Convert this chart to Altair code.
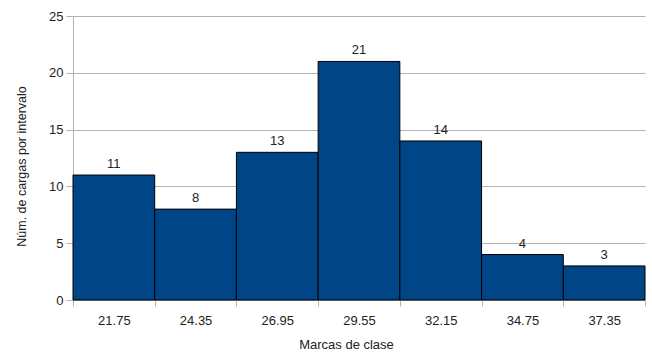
import altair as alt
import pandas as pd

# Class marks and frequency per interval
marcas = ["21.75", "24.35", "26.95", "29.55", "32.15", "34.75", "37.35"]
frecuencias = [11, 8, 13, 21, 14, 4, 3]

df = pd.DataFrame({"marca": marcas, "n": frecuencias})

x_enc = alt.X(
    "marca:N",
    sort=marcas,
    title="Marcas de clase",
    scale=alt.Scale(paddingInner=0, paddingOuter=0),
    axis=alt.Axis(
        labelAngle=0,
        tickBand="extent",
        domainColor="#b3b3b3",
        tickColor="#b3b3b3",
        tickSize=6,
        labelPadding=8,
        titlePadding=11,
        titleFontSize=13,
        titleX=273,
    ),
)
y_enc = alt.Y(
    "n:Q",
    title="Núm. de cargas por intervalo",
    scale=alt.Scale(domain=[0, 25], nice=False),
    axis=alt.Axis(
        values=[0, 5, 10, 15, 20, 25],
        gridColor="#b3b3b3",
        domainColor="#b3b3b3",
        tickColor="#b3b3b3",
        tickSize=7,
        labelPadding=3,
        titlePadding=20,
        titleFontSize=12.5,
        titleY=150,
    ),
)

barras = alt.Chart(df).mark_bar(
    color="#004586", stroke="#000000", strokeWidth=1
).encode(x=x_enc, y=y_enc)

etiquetas = alt.Chart(df).mark_text(
    baseline="bottom", dy=-4, fontSize=13, color="#222222", font="Liberation Sans"
).encode(x=alt.X("marca:N", sort=marcas), y="n:Q", text="n:Q")

chart = (
    alt.layer(barras, etiquetas)
    .properties(
        width=572,
        height=284,
        autosize=alt.AutoSizeParams(type="none"),
        padding={"left": 73, "top": 16, "right": 7, "bottom": 52},
    )
    .configure_view(stroke=None)
    .configure_axis(
        labelFont="Liberation Sans",
        titleFont="Liberation Sans",
        labelFontSize=13,
        titleFontWeight="normal",
        labelColor="#222222",
        titleColor="#222222",
    )
    .configure_axisY(grid=True)
    .configure_axisX(grid=False)
)

chart.save("out.html", embed_options={"renderer": "svg", "actions": False})
